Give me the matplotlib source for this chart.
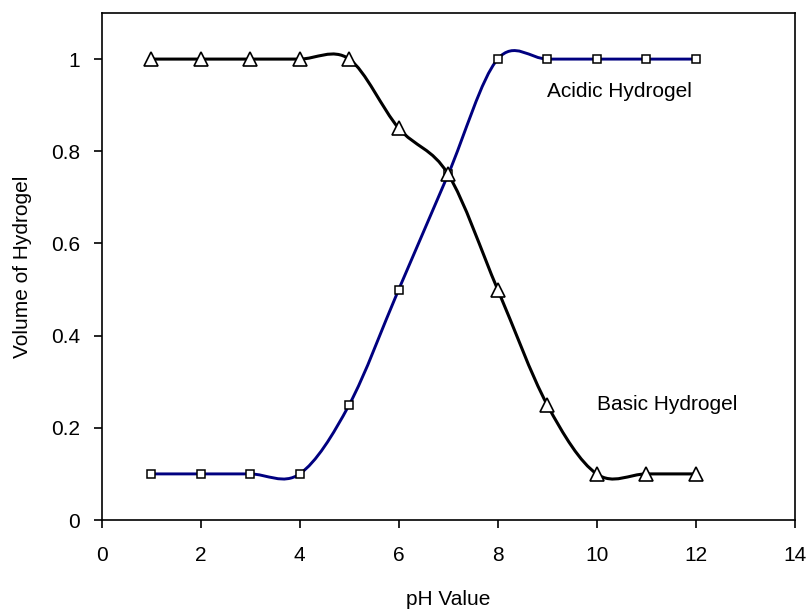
import matplotlib.pyplot as plt
from matplotlib.path import Path
from matplotlib.patches import PathPatch

plt.rcParams['font.family'] = ['Liberation Sans', 'DejaVu Sans']

ph = [1, 2, 3, 4, 5, 6, 7, 8, 9, 10, 11, 12]
acidic = [0.1, 0.1, 0.1, 0.1, 0.25, 0.5, 0.75, 1.0, 1.0, 1.0, 1.0, 1.0]
basic = [1.0, 1.0, 1.0, 1.0, 1.0, 0.85, 0.75, 0.5, 0.25, 0.1, 0.1, 0.1]


# smoothed line like the spreadsheet one (cubic bezier through the points)
def smooth_path(xs, ys):
    pts = list(zip(xs, ys))
    n = len(pts)
    verts = [pts[0]]
    codes = [Path.MOVETO]
    for i in range(n - 1):
        p0 = pts[max(i - 1, 0)]
        p1 = pts[i]
        p2 = pts[i + 1]
        p3 = pts[min(i + 2, n - 1)]
        c1 = (p1[0] + (p2[0] - p0[0]) / 6, p1[1] + (p2[1] - p0[1]) / 6)
        c2 = (p2[0] - (p3[0] - p1[0]) / 6, p2[1] - (p3[1] - p1[1]) / 6)
        verts += [c1, c2, p2]
        codes += [Path.CURVE4] * 3
    return Path(verts, codes)


fig = plt.figure(figsize=(8.09, 6.12), dpi=100)
ax = fig.add_axes([101.7 / 809, 92 / 612, 693 / 809, 507 / 612])

ax.add_patch(PathPatch(smooth_path(ph, acidic), fill=False, edgecolor='#000080', lw=2.1, zorder=2))
ax.plot(ph, acidic, linestyle='none', marker='s', ms=6, mfc='white', mec='black', mew=1.1, zorder=3)

ax.add_patch(PathPatch(smooth_path(ph, basic), fill=False, edgecolor='black', lw=2.2, zorder=2))
ax.plot(ph, basic, linestyle='none', marker='^', ms=9.4, mfc='white', mec='black', mew=1.2, zorder=3)

ax.text(9.0, 0.93, 'Acidic Hydrogel', fontsize=15, va='center', ha='left')
ax.text(10.0, 0.25, 'Basic Hydrogel', fontsize=15, va='center', ha='left')

ax.set_xlim(0, 14)
ax.set_ylim(0, 1.1)
ax.set_xticks(range(0, 15, 2))
yt = [0, 0.2, 0.4, 0.6, 0.8, 1.0]
ax.set_yticks(yt)
ax.set_yticklabels(['0', '0.2', '0.4', '0.6', '0.8', '1'])
ax.tick_params(direction='out', length=6, width=1.2, labelsize=15)
ax.tick_params(axis='x', pad=13)
ax.tick_params(axis='y', pad=9.5)
for s in ax.spines.values():
    s.set_linewidth(1.2)

ax.set_xlabel('pH Value', fontsize=15)
ax.set_ylabel('Volume of Hydrogel', fontsize=15)
ax.xaxis.set_label_coords(0.5, -0.138)
ax.yaxis.set_label_coords(-0.1, 0.5)

fig.savefig('out.png', dpi=100)
